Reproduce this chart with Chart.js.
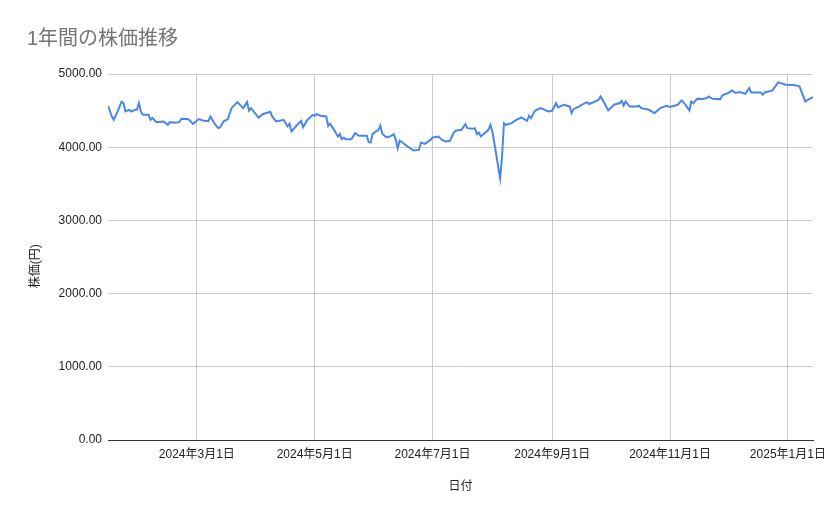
<!DOCTYPE html>
<html lang="ja">
<head>
<meta charset="utf-8">
<script src="https://cdn.jsdelivr.net/npm/chart.js@4/dist/chart.umd.min.js"></script>
<style>
  body { margin: 0; background: #fff; }
  #wrap { position: relative; width: 839px; height: 519px; }
  #title {
    position: absolute; left: 27px; top: 26px;
    font: normal 20px 'Liberation Sans', Arial, 'Noto Sans CJK JP', sans-serif;
    color: #757575; line-height: 24px; white-space: nowrap;
  }
</style>
</head>
<body>
<div id="wrap">
  <div id="title">1年間の株価推移</div>
  <canvas id="chart" width="839" height="519"></canvas>
</div>
<script>
const dates = [
  '2024-01-15', '2024-01-17', '2024-01-18', '2024-01-20', '2024-01-22', '2024-01-23', '2024-01-24', '2024-01-26',
  '2024-01-27', '2024-01-29', '2024-01-30', '2024-01-31', '2024-02-01', '2024-02-02', '2024-02-05', '2024-02-06',
  '2024-02-07', '2024-02-09', '2024-02-12', '2024-02-13', '2024-02-15', '2024-02-16', '2024-02-19', '2024-02-21',
  '2024-02-22', '2024-02-25', '2024-02-26', '2024-02-28', '2024-02-29', '2024-03-02', '2024-03-04', '2024-03-07',
  '2024-03-08', '2024-03-10', '2024-03-12', '2024-03-13', '2024-03-15', '2024-03-17', '2024-03-19', '2024-03-22',
  '2024-03-25', '2024-03-27', '2024-03-28', '2024-03-29', '2024-03-31', '2024-04-02', '2024-04-04', '2024-04-08',
  '2024-04-09', '2024-04-11', '2024-04-15', '2024-04-17', '2024-04-18', '2024-04-19', '2024-04-22', '2024-04-24',
  '2024-04-25', '2024-04-27', '2024-04-30', '2024-05-01', '2024-05-02', '2024-05-04', '2024-05-07', '2024-05-08',
  '2024-05-09', '2024-05-11', '2024-05-13', '2024-05-14', '2024-05-15', '2024-05-16', '2024-05-17', '2024-05-20',
  '2024-05-22', '2024-05-24', '2024-05-28', '2024-05-29', '2024-05-30', '2024-05-31', '2024-06-03', '2024-06-04',
  '2024-06-05', '2024-06-07', '2024-06-09', '2024-06-11', '2024-06-12', '2024-06-13', '2024-06-14', '2024-06-16',
  '2024-06-18', '2024-06-19', '2024-06-21', '2024-06-24', '2024-06-25', '2024-06-27', '2024-06-30', '2024-07-01',
  '2024-07-04', '2024-07-06', '2024-07-08', '2024-07-10', '2024-07-12', '2024-07-13', '2024-07-16', '2024-07-18',
  '2024-07-19', '2024-07-22', '2024-07-23', '2024-07-24', '2024-07-25', '2024-07-26', '2024-07-28', '2024-07-30',
  '2024-07-31', '2024-08-01', '2024-08-02', '2024-08-05', '2024-08-06', '2024-08-07', '2024-08-08', '2024-08-11',
  '2024-08-13', '2024-08-16', '2024-08-19', '2024-08-20', '2024-08-21', '2024-08-23', '2024-08-26', '2024-08-30',
  '2024-09-01', '2024-09-03', '2024-09-04', '2024-09-07', '2024-09-10', '2024-09-11', '2024-09-12', '2024-09-15',
  '2024-09-17', '2024-09-19', '2024-09-20', '2024-09-22', '2024-09-25', '2024-09-26', '2024-09-28', '2024-09-30',
  '2024-10-03', '2024-10-06', '2024-10-07', '2024-10-08', '2024-10-09', '2024-10-11', '2024-10-15', '2024-10-16',
  '2024-10-17', '2024-10-21', '2024-10-24', '2024-10-27', '2024-10-30', '2024-11-01', '2024-11-05', '2024-11-07',
  '2024-11-09', '2024-11-11', '2024-11-12', '2024-11-13', '2024-11-15', '2024-11-18', '2024-11-20', '2024-11-21',
  '2024-11-23', '2024-11-27', '2024-11-28', '2024-12-01', '2024-12-03', '2024-12-05', '2024-12-07', '2024-12-10',
  '2024-12-12', '2024-12-13', '2024-12-18', '2024-12-19', '2024-12-20', '2024-12-24', '2024-12-27', '2024-12-31',
  '2025-01-04', '2025-01-07', '2025-01-10', '2025-01-12', '2025-01-14',
];

const prices = [
  4566, 4419, 4374, 4488, 4621, 4603, 4488, 4510,
  4488, 4510, 4510, 4603, 4488, 4442, 4442, 4374,
  4400, 4342, 4352, 4347, 4305, 4342, 4333, 4342,
  4388, 4384, 4374, 4320, 4342, 4384, 4365, 4356,
  4420, 4330, 4260, 4270, 4356, 4380, 4534, 4616,
  4534, 4616, 4500, 4534, 4470, 4402, 4450, 4484,
  4420, 4352, 4374, 4283, 4320, 4215, 4306, 4360,
  4274, 4365, 4442, 4430, 4452, 4430, 4420, 4292,
  4320, 4237, 4146, 4180, 4110, 4130, 4110, 4110,
  4192, 4155, 4155, 4068, 4064, 4183, 4237, 4296,
  4183, 4137, 4146, 4178, 4100, 3986, 4090, 4055,
  4009, 3995, 3954, 3963, 4064, 4046, 4100, 4132,
  4146, 4100, 4078, 4087, 4200, 4224, 4237, 4315,
  4260, 4251, 4260, 4178, 4200, 4146, 4192, 4237,
  4306, 4215, 4063, 3575, 3870, 4328, 4306, 4328,
  4365, 4406, 4360, 4430, 4397, 4497, 4534, 4488,
  4497, 4603, 4543, 4580, 4557, 4466, 4520, 4557,
  4590, 4616, 4590, 4610, 4648, 4694, 4603, 4502,
  4580, 4603, 4634, 4570, 4625, 4556, 4556, 4566,
  4534, 4511, 4466, 4534, 4566, 4550, 4580, 4639,
  4580, 4502, 4625, 4600, 4662, 4657, 4671, 4694,
  4662, 4657, 4707, 4740, 4776, 4740, 4753, 4730,
  4808, 4748, 4748, 4717, 4748, 4776, 4885, 4853,
  4850, 4831, 4625, 4657, 4685,
];

const tickDates = ['2024-03-01', '2024-05-01', '2024-07-01', '2024-09-01', '2024-11-01', '2025-01-01'];
const yTicks = [0, 1000, 2000, 3000, 4000, 5000];

const DAY = 86400000;
const dayNum = (s) => { const [y, m, d] = s.split('-').map(Number); return Date.UTC(y, m - 1, d) / DAY; };
const fmtDate = (n) => { const d = new Date(n * DAY); return `${d.getUTCFullYear()}年${d.getUTCMonth() + 1}月${d.getUTCDate()}日`; };

const FONT = "'Liberation Sans', Arial, 'Noto Sans CJK JP', sans-serif";
const points = dates.map((d, i) => ({ x: dayNum(d), y: prices[i] }));

new Chart(document.getElementById('chart'), {
  type: 'line',
  data: {
    datasets: [{
      label: '株価',
      data: points,
      borderColor: '#4a86e8',
      borderWidth: 2,
      pointRadius: 0,
      tension: 0,
      fill: false,
    }],
  },
  options: {
    responsive: false,
    animation: false,
    layout: { padding: { top: 74, right: 26, left: 0, bottom: 0 } },
    plugins: { legend: { display: false }, tooltip: { enabled: false } },
    scales: {
      x: {
        type: 'linear',
        min: dayNum(dates[0]),
        max: dayNum(dates[dates.length - 1]),
        afterBuildTicks: (s) => { s.ticks = tickDates.map(d => ({ value: dayNum(d) })); },
        afterFit: (s) => { s.height = 79; },
        ticks: { autoSkip: false, maxRotation: 0, padding: 7, color: '#222', font: { family: FONT, size: 12 }, callback: (v) => fmtDate(v) },
        grid: { color: '#cccccc', drawTicks: false },
        border: { display: true, color: '#333333', width: 1 },
        title: { display: true, text: '日付', color: '#222', font: { family: FONT, size: 12 }, padding: { top: 0, bottom: 25 } },
      },
      y: {
        min: 0,
        max: 5000,
        afterBuildTicks: (s) => { s.ticks = yTicks.map(v => ({ value: v })); },
        afterFit: (s) => { s.width = 108; },
        ticks: { padding: 6, color: '#222', font: { family: FONT, size: 12 }, callback: (v) => v.toFixed(2) },
        grid: { color: (c) => c.tick && c.tick.value === 0 ? '#333333' : '#cccccc', drawTicks: false },
        border: { display: false },
        // trailing spaces nudge the centred title down a little, like the original
        title: { display: true, text: '株価(円)\u3000  ', color: '#222', font: { family: FONT, size: 12 }, padding: { top: 28, bottom: 0 } },
      },
    },
  },
});
</script>
</body>
</html>
